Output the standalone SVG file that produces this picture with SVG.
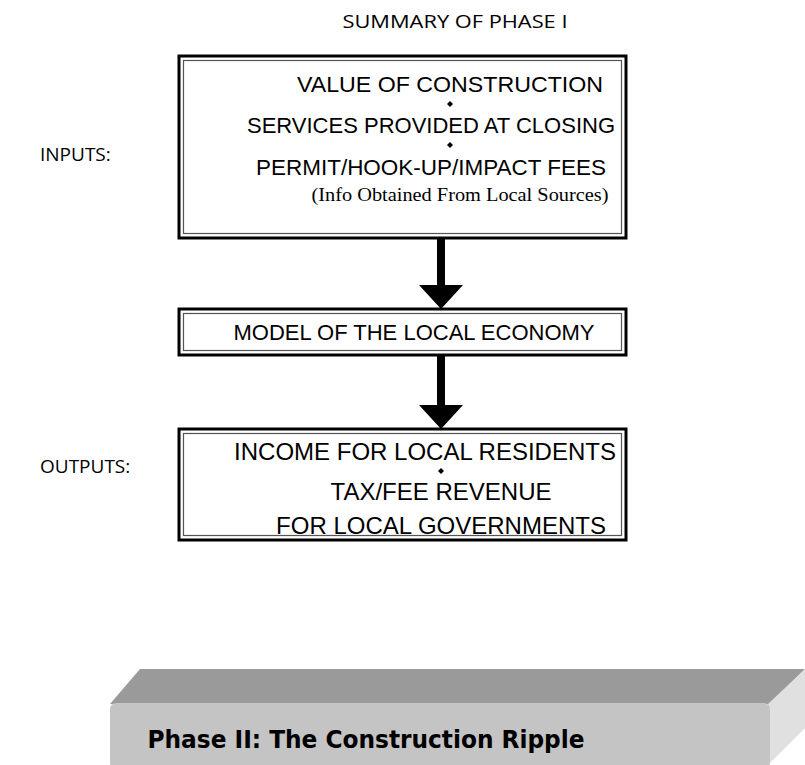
<svg xmlns="http://www.w3.org/2000/svg" width="805" height="765" viewBox="0 0 805 765">
<style>
.outer{fill:#fff;stroke:#000;stroke-width:3}
.inner{fill:none;stroke:#555;stroke-width:1.2}
.t{font-family:"Liberation Sans",Arial,sans-serif;font-size:22px;fill:#000;text-anchor:middle}
.t3{font-size:24px}
.lbl{font-family:"Open Sans","DejaVu Sans",sans-serif;font-size:19px;fill:#000}
.ser{font-family:"Liberation Serif","Times New Roman",serif;font-size:19.5px;fill:#000;text-anchor:middle}
.dot{fill:#000}
</style>
<rect width="805" height="765" fill="#fff"/>
<text class="lbl" x="455" y="28" text-anchor="middle" textLength="225" lengthAdjust="spacingAndGlyphs" font-size="20">SUMMARY OF PHASE I</text>
<text class="lbl" x="40" y="161">INPUTS:</text>
<text class="lbl" x="40" y="473">OUTPUTS:</text>
<g id="box1">
<rect class="outer" x="179" y="56" width="447" height="182"/>
<rect class="inner" x="183.5" y="60.5" width="438" height="173"/>
<text class="t" x="450" y="92" textLength="306" lengthAdjust="spacingAndGlyphs">VALUE OF CONSTRUCTION</text>
<path class="dot" d="M450 101 l3 3 l-3 3 l-3 -3z"/>
<text class="t" x="431" y="133">SERVICES PROVIDED AT CLOSING</text>
<path class="dot" d="M450 142 l3 3 l-3 3 l-3 -3z"/>
<text class="t" x="431" y="175" textLength="350" lengthAdjust="spacingAndGlyphs">PERMIT/HOOK-UP/IMPACT FEES</text>
<text class="ser" x="460" y="201" textLength="297" lengthAdjust="spacingAndGlyphs">(Info Obtained From Local Sources)</text>
</g>
<g id="box2">
<rect class="outer" x="179" y="309" width="447" height="46"/>
<rect class="inner" x="183.5" y="313.5" width="438" height="37"/>
<text class="t" x="414" y="340">MODEL OF THE LOCAL ECONOMY</text>
</g>
<g id="box3">
<rect class="outer" x="179" y="429" width="447" height="111"/>
<rect class="inner" x="183.5" y="433.5" width="438" height="102"/>
<text class="t t3" x="425" y="460">INCOME FOR LOCAL RESIDENTS</text>
<path class="dot" d="M441 468 l3 3 l-3 3 l-3 -3z"/>
<text class="t t3" x="441" y="500">TAX/FEE REVENUE</text>
<text class="t t3" x="441" y="534">FOR LOCAL GOVERNMENTS</text>
</g>
<g id="connectors">
<rect x="437" y="238" width="8" height="48"/>
<path d="M419 285 H463 L441 309 Z"/>
<rect x="437" y="355" width="8" height="51"/>
<path d="M419 405 H463 L441 429 Z"/>
</g>
<g id="phase2">
<path d="M140 669 H805 L770 704 H110 Z" fill="#9a9a9a"/>
<path d="M768 704 L805 669 V728 L768 765 Z" fill="#e0e0e0"/>
<rect x="110" y="703" width="660" height="66" rx="6" fill="#c4c4c4"/>
<text x="366" y="748" text-anchor="middle" textLength="437" lengthAdjust="spacingAndGlyphs" font-family="'DejaVu Sans Condensed','DejaVu Sans',sans-serif" font-weight="bold" font-size="25" fill="#000">Phase II: The Construction Ripple</text>
</g>
</svg>
